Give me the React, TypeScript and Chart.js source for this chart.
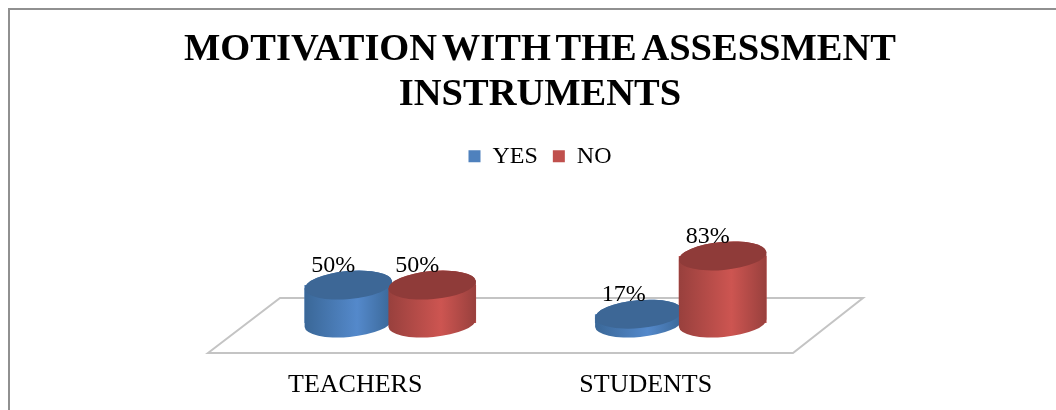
import React, { useEffect, useRef } from "react";
import { Chart, registerables } from "chart.js";

Chart.register(...registerables);

const categories = ["TEACHERS", "STUDENTS"];
const yesValues = [50, 17];
const noValues = [50, 83];
const seriesNames = ["YES", "NO"];
const titleLines = ["MOTIVATION WITH THE ASSESSMENT", "INSTRUMENTS"];

const SERIF = "'Liberation Serif', 'Times New Roman', serif";

const palettes = [
  { edge: "#3a6797", light: "#5489cb", top: "#3d6796", key: "#4f81bd" },
  { edge: "#98403d", light: "#cd5551", top: "#8f3b39", key: "#c0504d" },
];

// Outer frame, open along the lower and right edges, and the slanted floor under the columns.
const backdrop = {
  id: "backdrop",
  beforeDraw(chart: any) {
    const { ctx, width, height } = chart;
    ctx.save();
    ctx.strokeStyle = "#909090";
    ctx.lineWidth = 2;
    ctx.beginPath();
    ctx.moveTo(9, height);
    ctx.lineTo(9, 9);
    ctx.lineTo(width, 9);
    ctx.stroke();
    ctx.restore();
    // The heading sets its words close together.
    ctx.wordSpacing = "-5px";
  },
  beforeDatasetsDraw(chart: any) {
    const { ctx, scales } = chart;
    const base = scales.y.getBasePixel();
    const left = chart.chartArea.left;
    const right = chart.chartArea.right;
    ctx.save();
    ctx.strokeStyle = "#c4c4c4";
    ctx.lineWidth = 2;
    ctx.beginPath();
    ctx.moveTo(left - 37, base + 30);
    ctx.lineTo(left + 35, base - 25);
    ctx.lineTo(right + 37, base - 25);
    ctx.lineTo(right - 33, base + 30);
    ctx.closePath();
    ctx.stroke();
    ctx.restore();
  },
};

// Draws each bar element as a slightly tilted cylinder and writes its percentage above the lid.
const cylinders = {
  id: "cylinders",
  afterDatasetsDraw(chart: any) {
    const { ctx } = chart;
    const base = chart.scales.y.getBasePixel();
    const tilt = -0.09;
    const labels: { text: string; x: number; y: number }[] = [];
    chart.data.datasets.forEach((ds: any, di: number) => {
      const colors = palettes[di];
      chart.getDatasetMeta(di).data.forEach((bar: any, i: number) => {
        const rx = bar.width / 2;
        const ry = 14;
        const cx = bar.x;
        const top = bar.y;
        const side = ctx.createLinearGradient(cx - rx, 0, cx + rx, 0);
        side.addColorStop(0, colors.edge);
        side.addColorStop(0.6, colors.light);
        side.addColorStop(1, colors.edge);
        ctx.save();
        ctx.fillStyle = side;
        ctx.beginPath();
        ctx.ellipse(cx, top, rx, ry, tilt, Math.PI, 0, false);
        ctx.ellipse(cx, base, rx, ry, tilt, 0, Math.PI, false);
        ctx.closePath();
        ctx.fill();
        ctx.fillStyle = colors.top;
        ctx.beginPath();
        ctx.ellipse(cx, top, rx, ry, tilt, 0, Math.PI * 2);
        ctx.fill();
        ctx.restore();
        labels.push({ text: `${ds.data[i]}%`, x: cx - 15, y: top - 19 });
      });
    });
    ctx.save();
    ctx.fillStyle = "#000";
    ctx.font = `24px ${SERIF}`;
    ctx.textAlign = "center";
    ctx.textBaseline = "middle";
    labels.forEach((l) => ctx.fillText(l.text, l.x, l.y));
    ctx.restore();
  },
};

export default function App() {
  const ref = useRef<HTMLCanvasElement>(null);
  useEffect(() => {
    document.body.style.margin = "0";
    const chart = new Chart(ref.current!, {
      type: "bar",
      data: {
        labels: categories,
        datasets: [
          { label: seriesNames[0], data: yesValues, yAxisID: "y", backgroundColor: palettes[0].key, borderWidth: 0 },
          { label: seriesNames[1], data: noValues, yAxisID: "y", backgroundColor: palettes[1].key, borderWidth: 0 },
        ],
      },
      options: {
        animation: false,
        responsive: false,
        layout: { padding: { left: 24, right: 0, bottom: 0, top: 0 } },
        datasets: { bar: { categoryPercentage: 0.577, barPercentage: 1.048 } },
        scales: {
          x: {
            grid: { display: false },
            border: { display: false },
            ticks: { color: "#000", font: { family: SERIF, size: 26 }, padding: 39, labelOffset: -35, maxRotation: 0 },
            afterFit(scale: any) {
              scale.height = 87;
            },
          },
          y: {
            min: 7,
            max: 171,
            grid: { display: false },
            border: { display: false },
            ticks: { display: false },
            afterFit(scale: any) {
              scale.width = 221;
            },
          },
          gutter: {
            position: "right",
            grid: { display: false },
            border: { display: false },
            ticks: { display: false },
            afterFit(scale: any) {
              scale.width = 230;
            },
          },
        },
        plugins: {
          tooltip: { enabled: false },
          title: {
            display: true,
            text: titleLines,
            color: "#000",
            font: { family: SERIF, size: 38.5, weight: "bold", lineHeight: 1.16 },
            padding: { top: 28, bottom: 12 },
          },
          legend: {
            display: true,
            position: "top",
            labels: { color: "#000", boxWidth: 12, boxHeight: 12, padding: 15, font: { family: SERIF, size: 24 } },
          },
        },
      } as any,
      plugins: [backdrop, cylinders],
    } as any);
    return () => chart.destroy();
  }, []);
  return <canvas ref={ref} width={1056} height={410} style={{ display: "block" }} />;
}
